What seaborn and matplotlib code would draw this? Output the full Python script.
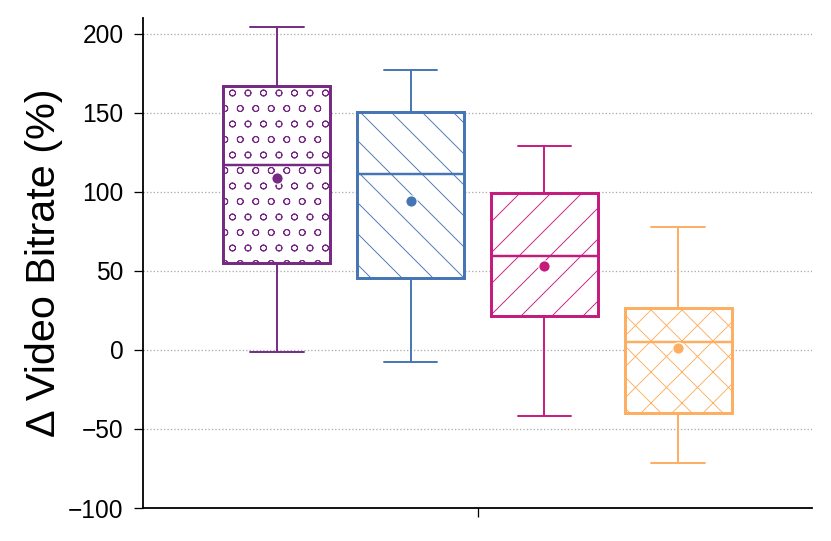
import numpy as np
import pandas as pd
import matplotlib
matplotlib.use("Agg")
import matplotlib.pyplot as plt
import seaborn as sns
from matplotlib.patches import PathPatch

# ---- data ----
groups = ["A", "B", "C", "D"]
colors = ["#762a83", "#4575b4", "#c51b7d", "#fdae61"]
hatches = ["oo", "\\\\", "//", "xx"]
whisker_low = [-1, -7.5, -42, -71.5]
q1 = [55, 45.5, 21.5, -40]
median = [117, 111, 59.5, 5]
q3 = [167, 150.5, 99.5, 26.5]
whisker_high = [204, 177, 129, 78]
means = [109, 94, 53, 1.5]
yticks = [-100, -50, 0, 50, 100, 150, 200]

DPI = 186
sns.set_style("ticks")
plt.rcParams["font.family"] = ["Liberation Sans", "DejaVu Sans"]
plt.rcParams["hatch.linewidth"] = 0.35
for k in ["text.color", "axes.labelcolor", "xtick.color", "ytick.color"]:
    plt.rcParams[k] = "black"

rows = []
for g, lo, a, m, b, hi in zip(groups, whisker_low, q1, median, q3, whisker_high):
    for v in (lo, a, m, b, hi):
        rows.append({"cat": "all", "group": g, "value": v})
df = pd.DataFrame(rows)
mdf = pd.DataFrame({"cat": ["all"] * 4, "group": groups, "value": means})

fig = plt.figure(figsize=(831 / DPI, 541 / DPI), dpi=DPI)
ax = fig.add_axes([143 / 831, 1 - 508 / 541, (812 - 143) / 831, (508 - 18) / 541])

pal = dict(zip(groups, colors))
sns.boxplot(data=df, x="cat", y="value", hue="group", hue_order=groups,
            palette=pal, fill=True, whis=(0, 100), width=0.8, gap=0.2,
            showfliers=False, legend=False, ax=ax,
            boxprops=dict(linewidth=1.15),
            whiskerprops=dict(linewidth=0.75),
            capprops=dict(linewidth=0.75),
            medianprops=dict(linewidth=0.95))

centers = np.array([-0.3, -0.1, 0.1, 0.3])
boxes = [p for p in ax.patches if isinstance(p, PathPatch)]
for patch in boxes:
    xs = patch.get_path().vertices[:, 0]
    i = int(np.argmin(np.abs(centers - xs.mean())))
    patch.set_facecolor("white")
    patch.set_edgecolor(colors[i])
    patch.set_hatch(hatches[i])
for ln in ax.lines:
    xd = np.asarray(ln.get_xdata(), dtype=float)
    if xd.size == 0:
        continue
    i = int(np.argmin(np.abs(centers - xd.mean())))
    ln.set_color(colors[i])

sns.stripplot(data=mdf, x="cat", y="value", hue="group", hue_order=groups,
              palette=pal, dodge=True, jitter=False, size=4.4,
              edgecolor="white", linewidth=0.45, legend=False, ax=ax, zorder=6)

ax.set_xlim(-0.5, 0.5)
ax.set_ylim(-100, 210)
ax.set_yticks(yticks)
ax.set_yticklabels([str(t).replace("-", "\u2212") for t in yticks])
ax.set_xticks([0])
ax.set_xticklabels([""])
ax.set_xlabel("")
ax.set_ylabel("\u0394 Video Bitrate (%)", fontsize=16, labelpad=2, color="black")
ax.tick_params(axis="y", labelsize=9.5, length=3.5, width=0.5, pad=4,
               colors="black")
ax.tick_params(axis="x", length=3.5, width=0.5, colors="black")
ax.yaxis.grid(True, linestyle=":", color="#aaaaaa", linewidth=0.5)
ax.set_axisbelow(True)
for s in ["top", "right"]:
    ax.spines[s].set_visible(False)
for s in ["left", "bottom"]:
    ax.spines[s].set_linewidth(0.7)
    ax.spines[s].set_color("black")

fig.savefig("out.png", dpi=DPI)
